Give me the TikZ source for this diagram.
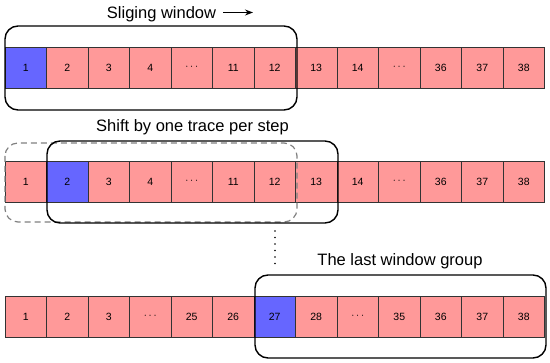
\documentclass[tikz,border=0pt]{standalone}
\usepackage{fontspec}
\setmainfont{Liberation Sans}
\usetikzlibrary{arrows.meta,positioning}
\definecolor{cellpink}{HTML}{FF9999}
\definecolor{cellblue}{HTML}{6666FF}
\definecolor{edgegray}{HTML}{333333}

\tikzset{
  cell/.style={draw=edgegray,line width=0.7pt,fill=cellpink,anchor=north west,
    minimum width=41.5pt,minimum height=41pt,inner sep=0pt,outer sep=0pt,
    font=\fontsize{10.5}{12}\selectfont},
  win/.style={draw=black,line width=1.4pt,rounded corners=13pt},
  winold/.style={draw=gray,line width=1.2pt,dash pattern=on 6pt off 4pt,rounded corners=13pt},
  title/.style={anchor=base,inner sep=0pt,font=\fontsize{16.5}{19}\selectfont},
  dots/.style={line width=1.6pt,line cap=round,dash pattern=on 0pt off 6.5pt}
}

\begin{document}
\begin{tikzpicture}[x=1pt,y=-1pt]
\useasboundingbox (0,0) rectangle (550,363);

\foreach \lab [count=\i] in {1,2,3,4,$\cdots$,11,12,13,14,$\cdots$,36,37,38}{
  \ifnum\i=1 \def\fc{cellblue}\else\def\fc{cellpink}\fi
  \node[cell,fill=\fc] (a\i) at ({5+(\i-1)*41.5},47) {\lab};
}
\foreach \lab [count=\i] in {1,2,3,4,$\cdots$,11,12,13,14,$\cdots$,36,37,38}{
  \ifnum\i=2 \def\fc{cellblue}\else\def\fc{cellpink}\fi
  \node[cell,fill=\fc] (b\i) at ({5+(\i-1)*41.5},161) {\lab};
}
\foreach \lab [count=\i] in {1,2,3,$\cdots$,25,26,27,28,$\cdots$,35,36,37,38}{
  \ifnum\i=7 \def\fc{cellblue}\else\def\fc{cellpink}\fi
  \node[cell,fill=\fc] (c\i) at ({5+(\i-1)*41.5},296) {\lab};
}

\draw[win] (5,26) rectangle (297,110);
\draw[winold] (5,143) rectangle (297,222);
\draw[win] (47,141) rectangle (338,223);
\draw[win] (255,275) rectangle (546,358);

\node[title] (t1) at (161.5,18.5) {Sliging window};
\coordinate (t1end) at (253,12.5);
\draw[-{Stealth[length=8pt,width=6pt]},line width=1.1pt] ([shift={(7pt,6pt)}]t1.base east) -- (t1end);

\node[title] (t2) at (192.5,132) {Shift by one trace per step};

\coordinate (d1) at (275,231);
\coordinate (d2) at (275,268);
\draw[dots] (d1) -- (d2);

\node[title] (t3) at (400,266) {The last window group};

\end{tikzpicture}
\end{document}
